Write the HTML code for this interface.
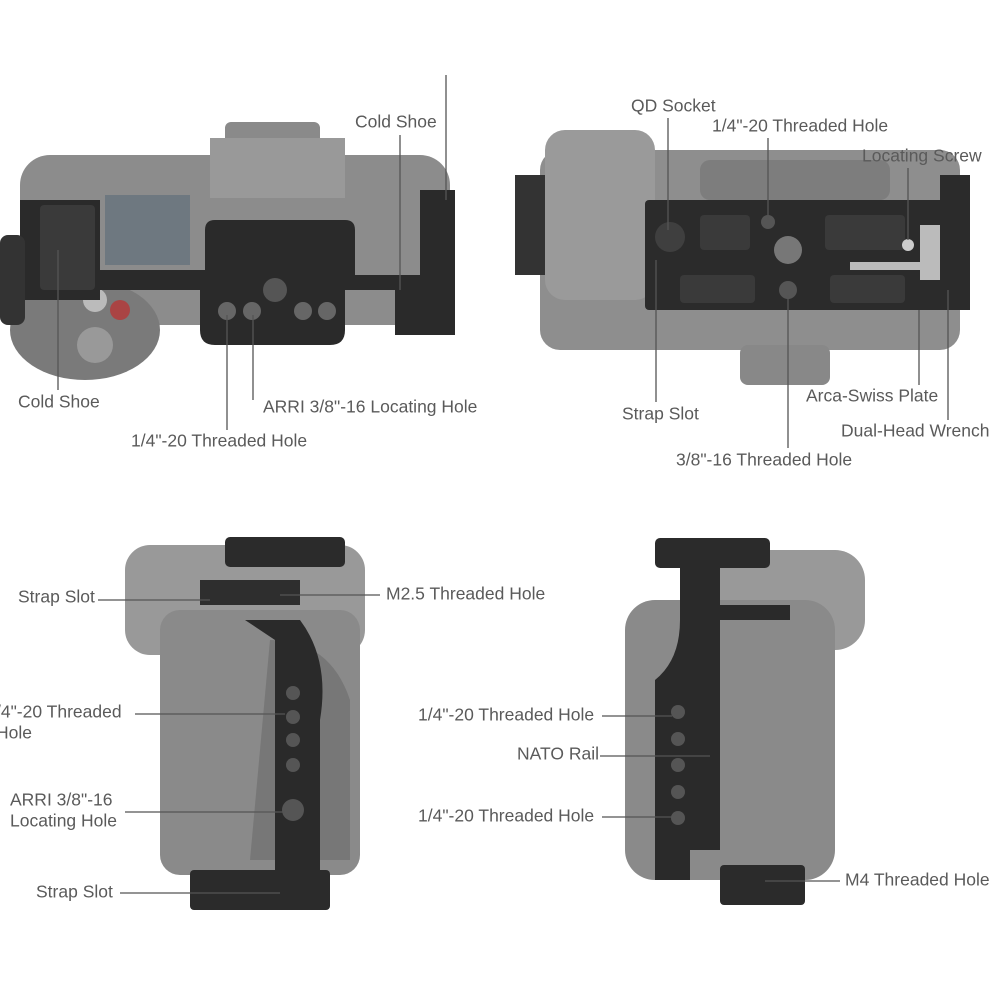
<!DOCTYPE html>
<html><head><meta charset="utf-8"><style>
html,body{margin:0;padding:0;background:#fff;width:1000px;height:1000px;overflow:hidden}
text{font-family:"Liberation Sans",sans-serif;font-size:17.5px;fill:#5a5a5a}
</style></head><body>
<svg width="1000" height="1000" viewBox="0 0 1000 1000" xmlns="http://www.w3.org/2000/svg">
<g stroke="none">
<!-- TOP LEFT camera -->
<rect x="225" y="122" width="95" height="40" rx="6" fill="#8a8a8a"/>
<rect x="20" y="155" width="430" height="170" rx="30" fill="#8c8c8c"/>
<rect x="210" y="138" width="135" height="60" fill="#999"/>
<rect x="105" y="195" width="85" height="70" fill="#6e7880"/>
<ellipse cx="85" cy="330" rx="75" ry="50" fill="#7a7a7a"/>
<circle cx="95" cy="300" r="12" fill="#bbb"/>
<circle cx="95" cy="345" r="18" fill="#999"/>
<circle cx="120" cy="310" r="10" fill="#a44"/>
<path d="M20 200 H100 V270 H205 V230 Q205 220 215 220 H345 Q355 220 355 230 V275 H420 V190 H455 V335 H395 V290 H345 V330 Q345 345 330 345 H215 Q200 345 200 330 V290 H100 V300 H20 Z" fill="#2a2a2a"/>
<rect x="40" y="205" width="55" height="85" rx="4" fill="#3a3a3a"/>
<circle cx="227" cy="311" r="9" fill="#666"/><circle cx="252" cy="311" r="9" fill="#666"/>
<circle cx="303" cy="311" r="9" fill="#666"/><circle cx="327" cy="311" r="9" fill="#666"/>
<circle cx="275" cy="290" r="12" fill="#555"/>
<rect x="0" y="235" width="25" height="90" rx="8" fill="#333"/>
<!-- TOP RIGHT camera -->
<rect x="540" y="150" width="420" height="200" rx="20" fill="#8e8e8e"/>
<rect x="545" y="130" width="110" height="170" rx="20" fill="#9a9a9a"/>
<rect x="700" y="160" width="190" height="40" rx="10" fill="#7d7d7d"/>
<rect x="740" y="345" width="90" height="40" rx="8" fill="#888"/>
<rect x="515" y="175" width="30" height="100" fill="#333"/>
<rect x="645" y="200" width="305" height="110" rx="4" fill="#2b2b2b"/>
<rect x="940" y="175" width="30" height="135" fill="#2b2b2b"/>
<circle cx="670" cy="237" r="15" fill="#3f3f3f"/>
<circle cx="788" cy="250" r="14" fill="#777"/>
<circle cx="768" cy="222" r="7" fill="#555"/><circle cx="788" cy="290" r="9" fill="#555"/>
<rect x="700" y="215" width="50" height="35" rx="4" fill="#3a3a3a"/>
<rect x="825" y="215" width="80" height="35" rx="4" fill="#3a3a3a"/>
<rect x="680" y="275" width="75" height="28" rx="4" fill="#3a3a3a"/>
<rect x="830" y="275" width="75" height="28" rx="4" fill="#3a3a3a"/>
<rect x="850" y="262" width="90" height="8" fill="#bbb"/>
<rect x="920" y="225" width="20" height="55" fill="#bbb"/>
<circle cx="908" cy="245" r="6" fill="#ccc"/>
<!-- BOTTOM LEFT camera -->
<rect x="125" y="545" width="240" height="110" rx="25" fill="#999"/>
<rect x="160" y="610" width="200" height="265" rx="20" fill="#8a8a8a"/>
<path d="M270 640 Q330 640 350 700 V860 H250 Z" fill="#777"/>
<rect x="225" y="537" width="120" height="30" rx="5" fill="#2b2b2b"/>
<path d="M200 580 H300 V605 H200 Z" fill="#2e2e2e"/>
<path d="M245 620 H300 Q330 660 320 720 V890 H275 V640 Z" fill="#2a2a2a"/>
<circle cx="293" cy="693" r="7" fill="#555"/><circle cx="293" cy="717" r="7" fill="#555"/>
<circle cx="293" cy="740" r="7" fill="#555"/><circle cx="293" cy="765" r="7" fill="#555"/>
<circle cx="293" cy="810" r="11" fill="#555"/>
<rect x="190" y="870" width="140" height="40" rx="4" fill="#2b2b2b"/>
<!-- BOTTOM RIGHT camera -->
<rect x="715" y="550" width="150" height="100" rx="30" fill="#999"/>
<rect x="625" y="600" width="210" height="280" rx="30" fill="#8a8a8a"/>
<rect x="655" y="538" width="115" height="30" rx="5" fill="#2b2b2b"/>
<path d="M680 560 H720 V605 H790 V620 H720 V850 H690 V880 H655 V680 Q680 660 680 620 Z" fill="#2a2a2a"/>
<circle cx="678" cy="712" r="7" fill="#555"/><circle cx="678" cy="739" r="7" fill="#555"/>
<circle cx="678" cy="765" r="7" fill="#555"/><circle cx="678" cy="792" r="7" fill="#555"/>
<circle cx="678" cy="818" r="7" fill="#555"/>
<rect x="720" y="865" width="85" height="40" rx="4" fill="#2b2b2b"/>
</g>
<!-- leader lines -->
<g stroke="#555" stroke-width="1.3" fill="none">
<line x1="446" y1="75" x2="446" y2="200"/>
<line x1="400" y1="135" x2="400" y2="290"/>
<line x1="58" y1="250" x2="58" y2="390"/>
<line x1="227" y1="315" x2="227" y2="430"/>
<line x1="253" y1="315" x2="253" y2="400"/>
<line x1="668" y1="118" x2="668" y2="230"/>
<line x1="768" y1="138" x2="768" y2="220"/>
<line x1="908" y1="168" x2="908" y2="240"/>
<line x1="656" y1="260" x2="656" y2="402"/>
<line x1="919" y1="310" x2="919" y2="385"/>
<line x1="948" y1="290" x2="948" y2="420"/>
<line x1="788" y1="295" x2="788" y2="448"/>
<line x1="98" y1="600" x2="210" y2="600"/>
<line x1="280" y1="595" x2="380" y2="595"/>
<line x1="135" y1="714" x2="285" y2="714"/>
<line x1="125" y1="812" x2="285" y2="812"/>
<line x1="120" y1="893" x2="280" y2="893"/>
<line x1="602" y1="716" x2="672" y2="716"/>
<line x1="600" y1="756" x2="710" y2="756"/>
<line x1="602" y1="817" x2="672" y2="817"/>
<line x1="765" y1="881" x2="840" y2="881"/>
</g>
<g dominant-baseline="middle">
<text x="355" y="123">Cold Shoe</text>
<text x="18" y="403">Cold Shoe</text>
<text x="263" y="408">ARRI 3/8"-16 Locating Hole</text>
<text x="131" y="442">1/4"-20 Threaded Hole</text>
<text x="631" y="107">QD Socket</text>
<text x="712" y="127">1/4"-20 Threaded Hole</text>
<text x="862" y="157">Locating Screw</text>
<text x="622" y="415">Strap Slot</text>
<text x="806" y="397">Arca-Swiss Plate</text>
<text x="841" y="432">Dual-Head Wrench</text>
<text x="676" y="461">3/8"-16 Threaded Hole</text>
<text x="18" y="598">Strap Slot</text>
<text x="386" y="595">M2.5 Threaded Hole</text>
<text x="-4" y="713">/4"-20 Threaded</text>
<text x="-4" y="734">Hole</text>
<text x="10" y="801">ARRI 3/8"-16</text>
<text x="10" y="822">Locating Hole</text>
<text x="36" y="893">Strap Slot</text>
<text x="418" y="716">1/4"-20 Threaded Hole</text>
<text x="517" y="755">NATO Rail</text>
<text x="418" y="817">1/4"-20 Threaded Hole</text>
<text x="845" y="881">M4 Threaded Hole</text>
</g>
</svg>
</body></html>
